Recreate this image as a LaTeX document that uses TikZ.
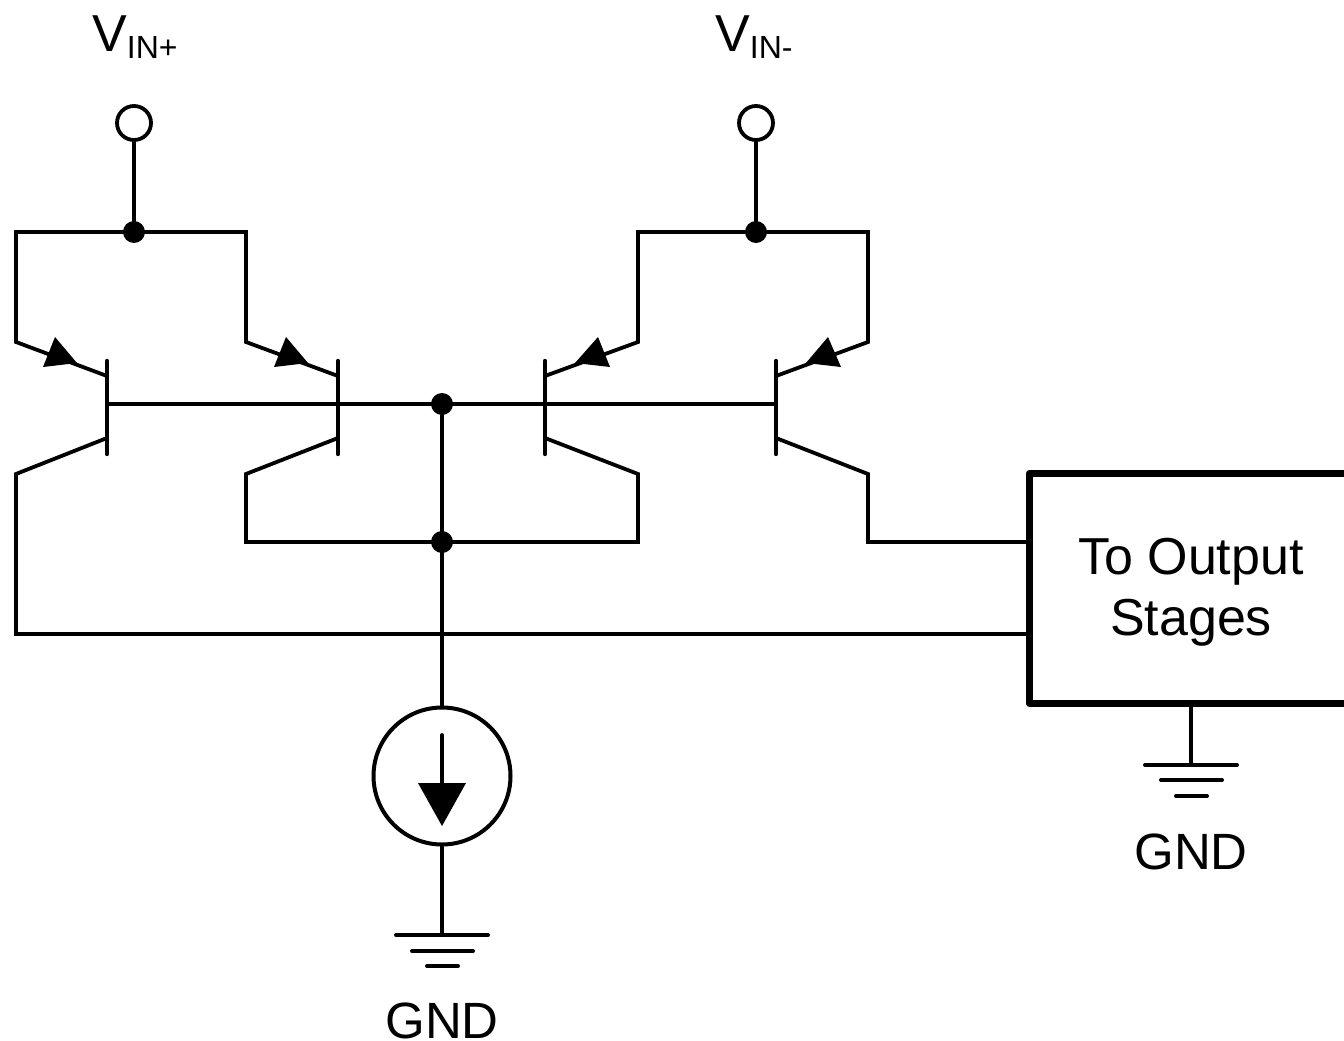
\documentclass[tikz,border=0pt]{standalone}
\usepackage{fontspec}
\setmainfont{Liberation Sans}
\tikzset{
  wire/.style={line width=3.8pt,line cap=round,line join=miter},
  bar/.style={line width=4.4pt,line cap=round},
  gndbar/.style={line width=4pt,line cap=round},
  dotnode/.style={circle,fill=black,draw=none,minimum size=22pt,inner sep=0pt},
  term/.style={circle,draw=black,fill=white,line width=3.8pt,minimum size=34pt,inner sep=0pt},
  source/.style={circle,draw=black,fill=white,line width=4pt,minimum size=137pt,inner sep=0pt},
  iobox/.style={line width=7.3pt,line join=round},
  lbl/.style={inner sep=0pt,align=center,font=\fontsize{52}{62}\selectfont},
  gndlbl/.style={inner sep=0pt,align=center,font=\fontsize{51}{60}\selectfont},
  tip/.style={fill=black,draw=none}
}
\newcommand{\subtxt}[1]{\raisebox{-7pt}{\fontsize{32}{32}\selectfont #1}}
\begin{document}
\begin{tikzpicture}[x=1pt,y=-1pt]
\useasboundingbox (0,0) rectangle (1344,1041);
% terminals and junctions
\node[term] (vp) at (134,123) {};
\node[term] (vm) at (756,123) {};
\node[dotnode] (jp) at (134,232) {};
\node[dotnode] (jm) at (756,232) {};
\node[dotnode] (jb) at (442,404) {};
\node[dotnode] (jc) at (442,542) {};
\node[source] (is) at (442,776) {};
% coordinates
\coordinate (q1e) at (107,376); \coordinate (q1c) at (107,438); \coordinate (q1b) at (107,404);
\coordinate (q2e) at (338,376); \coordinate (q2c) at (338,438); \coordinate (q2b) at (338,404);
\coordinate (q3e) at (545,376); \coordinate (q3c) at (545,438); \coordinate (q3b) at (545,404);
\coordinate (q4e) at (776,376); \coordinate (q4c) at (776,438); \coordinate (q4b) at (776,404);
\coordinate (boxa) at (1029,542); \coordinate (boxb) at (1029,634);
\coordinate (boxg) at (1191,704);
\coordinate (g1) at (442,935); \coordinate (g2) at (1191,765);
% wires
\draw[wire] (vp) -- (jp);
\draw[wire] (vm) -- (jm);
\draw[wire] (q1e) -- (16,342) -- (16,232) -- (246,232) -- (246,342) -- (q2e);
\draw[wire] (q3e) -- (638,342) -- (638,232) -- (868,232) -- (868,342) -- (q4e);
\draw[wire] (q1b) -- (q4b);
\draw[wire] (q1c) -- (16,474) -- (16,634) -- (boxb);
\draw[wire] (q2c) -- (246,474) -- (246,542) -- (638,542) -- (638,474) -- (q3c);
\draw[wire] (q4c) -- (868,474) -- (868,542) -- (boxa);
\draw[wire] (jb) -- (is);
\draw[wire] (is) -- (g1);
\draw[wire] (boxg) -- (g2);
% base bars
\draw[bar] (107,361) -- (107,454);
\draw[bar] (338,361) -- (338,454);
\draw[bar] (545,361) -- (545,454);
\draw[bar] (776,361) -- (776,454);
% emitter arrows
\fill[tip] (55,337) -- (43,367) -- (77,363) -- cycle;
\fill[tip] (286,337) -- (274,367) -- (308,363) -- cycle;
\fill[tip] (598,337) -- (610,367) -- (575,363) -- cycle;
\fill[tip] (828,337) -- (841,367) -- (806,363) -- cycle;
% source arrow
\draw[wire] (442,735) -- (442,785);
\fill[tip] (418,783) -- (466,783) -- (442,826) -- cycle;
% grounds
\draw[gndbar] (396,935) -- (488,935);
\draw[gndbar] (412,951) -- (473,951);
\draw[gndbar] (427,966) -- (458,966);
\draw[gndbar] (1145,765) -- (1237,765);
\draw[gndbar] (1161,780) -- (1222,780);
\draw[gndbar] (1176,796) -- (1207,796);
% output box
\draw[iobox] (1350,473.5) -- (1029.5,473.5) -- (1029.5,703.5) -- (1350,703.5);
% labels
\node[lbl,anchor=base west] (lp) at (92,52) {V\subtxt{IN+}};
\node[lbl,anchor=base west] (lm) at (715,52) {V\subtxt{IN-}};
\node[lbl,anchor=base] (out) at (1191,574) {To Output};
\node[lbl,anchor=base] (out2) at (1191,635) {Stages};
\node[gndlbl,anchor=base] (g1t) at (442,1038) {GND};
\node[gndlbl,anchor=base] (g2t) at (1191,869) {GND};
\end{tikzpicture}
\end{document}
